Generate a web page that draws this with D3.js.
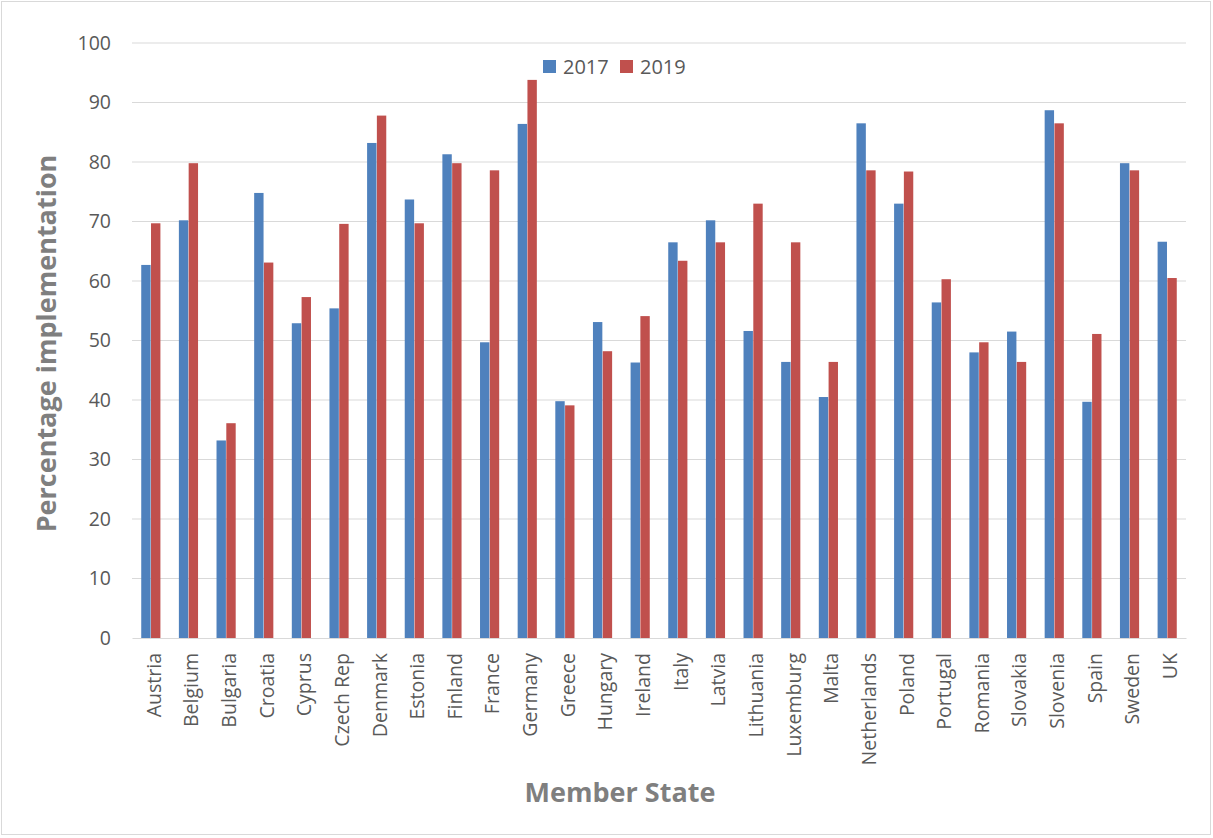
<!DOCTYPE html>
<html>
<head>
<meta charset="utf-8">
<script src="https://cdn.jsdelivr.net/npm/d3@7"></script>
<style>
  body { margin: 0; background: #fff; }
  text { font-family: "Open Sans", sans-serif; }
</style>
</head>
<body>
<div id="chart"></div>
<script>
var states = ["Austria", "Belgium", "Bulgaria", "Croatia", "Cyprus", "Czech Rep", "Denmark", "Estonia",
	"Finland", "France", "Germany", "Greece", "Hungary", "Ireland", "Italy", "Latvia", "Lithuania",
	"Luxemburg", "Malta", "Netherlands", "Poland", "Portugal", "Romania", "Slovakia", "Slovenia",
	"Spain", "Sweden", "UK"];
var years = ["2017", "2019"];
var values2017 = [62.7, 70.2, 33.2, 74.8, 52.9, 55.4, 83.2, 73.7, 81.3, 49.7, 86.4, 39.8, 53.1, 46.3,
	66.5, 70.2, 51.6, 46.4, 40.5, 86.5, 73.0, 56.4, 48.0, 51.5, 88.7, 39.7, 79.8, 66.6];
var values2019 = [69.7, 79.8, 36.1, 63.1, 57.3, 69.6, 87.8, 69.7, 79.8, 78.6, 93.8, 39.1, 48.2, 54.1,
	63.4, 66.5, 73.0, 66.5, 46.4, 78.6, 78.4, 60.3, 49.7, 46.4, 86.5, 51.1, 78.6, 60.5];
var yTicks = [0, 10, 20, 30, 40, 50, 60, 70, 80, 90, 100];
var colors = ["#4F81BD", "#C0504D"];

var W = 1213, H = 838;
var margin = { top: 43, right: 27, bottom: 200, left: 132 };

var data = states.map((s, i) => ({ state: s, vals: [values2017[i], values2019[i]] }));

var svg = d3.select("#chart").append("svg")
	.attr("width", W)
	.attr("height", H);

// outer border
svg.append("rect")
	.attr("x", 1.5).attr("y", 1.5)
	.attr("width", W - 4).attr("height", H - 5)
	.attr("fill", "#fff")
	.attr("stroke", "#D9D9D9");

var x0 = d3.scaleBand()
	.domain(states)
	.range([margin.left, W - margin.right])
	.paddingInner(0.47)
	.paddingOuter(0.235);

var x1 = d3.scaleBand()
	.domain(years)
	.range([0, x0.bandwidth()])
	.padding(0.04);

var y = d3.scaleLinear()
	.domain([0, 100])
	.range([H - margin.bottom, margin.top]);

// gridlines
svg.append("g")
	.selectAll("line")
	.data(yTicks.filter(d => d > 0))
	.join("line")
	.attr("x1", margin.left)
	.attr("x2", W - margin.right)
	.attr("y1", d => y(d))
	.attr("y2", d => y(d))
	.attr("stroke", "#D9D9D9")
	.attr("stroke-width", 1.2);

// y axis
var yAxis = svg.append("g")
	.attr("transform", `translate(${margin.left},0)`)
	.call(d3.axisLeft(y).tickValues(yTicks).tickSize(0).tickPadding(21));
yAxis.select(".domain").remove();
yAxis.selectAll("text")
	.style("font-family", "Open Sans, sans-serif")
	.style("font-size", "19.5px")
	.attr("fill", "#595959");

// bars
svg.append("g")
	.selectAll("g")
	.data(data)
	.join("g")
	.attr("transform", d => `translate(${x0(d.state)},0)`)
	.selectAll("rect")
	.data(d => d.vals.map((v, j) => ({ year: years[j], v: v, c: colors[j] })))
	.join("rect")
	.attr("x", d => x1(d.year))
	.attr("y", d => y(d.v))
	.attr("width", x1.bandwidth())
	.attr("height", d => y(0) - y(d.v))
	.attr("fill", d => d.c);

// x axis
var xAxis = svg.append("g")
	.attr("transform", `translate(0,${y(0)})`)
	.call(d3.axisBottom(x0).tickSize(0).tickSizeOuter(0));
xAxis.select(".domain").attr("stroke", "#D9D9D9").attr("stroke-width", 1.2);
xAxis.selectAll("text")
	.style("font-family", "Open Sans, sans-serif")
	.style("font-size", "19.5px")
	.attr("fill", "#595959")
	.style("text-anchor", "end")
	.attr("dx", "-15px")
	.attr("dy", "0.35em")
	.attr("transform", "rotate(-90)");

// axis titles
svg.append("text")
	.attr("transform", `translate(56,${(margin.top + y(0)) / 2 + 3}) rotate(-90)`)
	.attr("text-anchor", "middle")
	.style("font-size", "27px")
	.style("font-weight", "bold")
	.attr("fill", "#7F7F7F")
	.text("Percentage implementation");

svg.append("text")
	.attr("x", 620)
	.attr("y", 802)
	.attr("text-anchor", "middle")
	.style("font-size", "27px")
	.style("font-weight", "bold")
	.attr("fill", "#7F7F7F")
	.text("Member State");

// legend
var legend = svg.append("g")
	.attr("transform", "translate(543,60)")
	.selectAll("g")
	.data(years)
	.join("g")
	.attr("transform", (d, i) => `translate(${i * 77},0)`);
legend.append("rect")
	.attr("width", 13).attr("height", 13)
	.attr("fill", (d, i) => colors[i]);
legend.append("text")
	.attr("x", 20).attr("y", 14)
	.style("font-size", "20px")
	.attr("fill", "#595959")
	.text(d => d);
</script>
</body>
</html>
